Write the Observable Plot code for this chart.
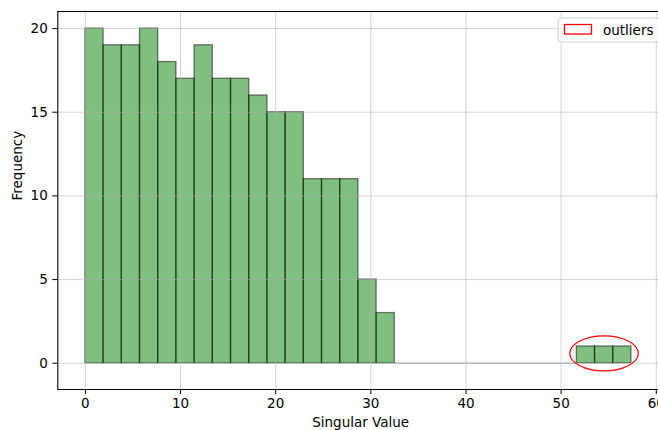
<!DOCTYPE html>
<html><head><meta charset="utf-8">
<script src="https://cdn.jsdelivr.net/npm/d3@7"></script>
<script src="https://cdn.jsdelivr.net/npm/@observablehq/plot@0.6"></script>
<style>
body{margin:0;background:#fff}
#chart{position:relative;width:658px;height:430px;overflow:hidden}
</style>
</head><body><div id="chart"></div>
<script>
// ---- data ----
const binStart = 0;
const binWidth = 1.913;
const counts = [20,19,19,20,18,17,19,17,17,16,15,15,11,11,11,5,3,0,0,0,0,0,0,0,0,0,0,1,1,1];
const xTicks = [0,10,20,30,40,50,60];
const yTicks = [0,5,10,15,20];
const xLabel = "Singular Value";
const yLabel = "Frequency";
const legendLabel = "outliers";
const ellipseCenter = [54.56, 0.56];
const ellipseSize = [7.2, 2.1];

const bins = counts.map((c, i) => ({x1: binStart + i * binWidth, x2: binStart + (i + 1) * binWidth, count: c}));
const nonzero = bins.filter(d => d.count > 0);
const zero = bins.filter(d => d.count === 0);

const xDomain = [-2.9, 61];
const yDomain = [-1.57, 21.02];
const font = "DejaVu Sans, sans-serif";

const ellipseMark = (index, scales) => {
  const x = scales.x, y = scales.y;
  const cx = x(ellipseCenter[0]), cy = y(ellipseCenter[1]);
  const rx = Math.abs(x(ellipseCenter[0] + ellipseSize[0] / 2) - cx);
  const ry = Math.abs(y(ellipseCenter[1] + ellipseSize[1] / 2) - cy);
  return d3.create("svg:ellipse").attr("cx", cx).attr("cy", cy).attr("rx", rx).attr("ry", ry)
    .attr("fill", "none").attr("stroke", "red").attr("stroke-width", 1.2).node();
};

const legendMark = () => {
  const g = d3.create("svg:g");
  g.append("rect").attr("x", 558).attr("y", 18).attr("width", 105).attr("height", 24).attr("rx", 3)
    .attr("fill", "white").attr("fill-opacity", 0.8).attr("stroke", "#cccccc").attr("stroke-width", 1);
  g.append("rect").attr("x", 564.5).attr("y", 24.5).attr("width", 27).attr("height", 9.5)
    .attr("fill", "none").attr("stroke", "red").attr("stroke-width", 1.3);
  g.append("text").attr("x", 603).attr("y", 35).attr("font-family", font).attr("font-size", "13.5px")
    .attr("text-anchor", "start").attr("fill", "#000").text(legendLabel);
  return g.node();
};

const grid = {stroke: "#b0b0b0", strokeOpacity: 0.55, strokeWidth: 1};

const plot = Plot.plot({
  width: 658, height: 430,
  marginLeft: 57.3, marginRight: 0, marginTop: 11, marginBottom: 41,
  x: {domain: xDomain, range: [57.3, 665.3]},
  y: {domain: yDomain},
  style: {fontFamily: font, fontSize: "13.5px", color: "#000", background: "#fff", overflow: "hidden"},
  marks: [
    Plot.rect(nonzero, {x1: "x1", x2: "x2", y1: d => 0, y2: "count", fill: "green", fillOpacity: 0.5,
      stroke: "black", strokeOpacity: 0.5, strokeWidth: 1.3, inset: 0}),
    Plot.ruleY(zero, {x1: "x1", x2: "x2", y: d => 0, stroke: "black", strokeOpacity: 0.3, strokeWidth: 1.3}),
    Plot.gridX(xTicks, grid),
    Plot.gridY(yTicks, grid),
    Plot.axisX(xTicks, {tickSize: 5, tickPadding: 4, label: null, fontSize: "13.5px", stroke: "#000"}),
    Plot.axisY(yTicks, {tickSize: 5, tickPadding: 5, label: null, fontSize: "13.5px", stroke: "#000"}),
    ellipseMark,
    Plot.ruleX([xDomain[0]], {stroke: "#000", strokeWidth: 1.1}),
    Plot.ruleY([yDomain[0], yDomain[1]], {stroke: "#000", strokeWidth: 1.1}),
    legendMark,
    Plot.text([xLabel], {frameAnchor: "bottom", dx: 2.5, dy: 37, fontSize: "13.5px", fill: "#000"}),
    Plot.text([yLabel], {frameAnchor: "left", dx: -40, rotate: -90, fontSize: "13.5px", fill: "#000"})
  ]
});
document.getElementById("chart").appendChild(plot);
</script>
</body></html>
